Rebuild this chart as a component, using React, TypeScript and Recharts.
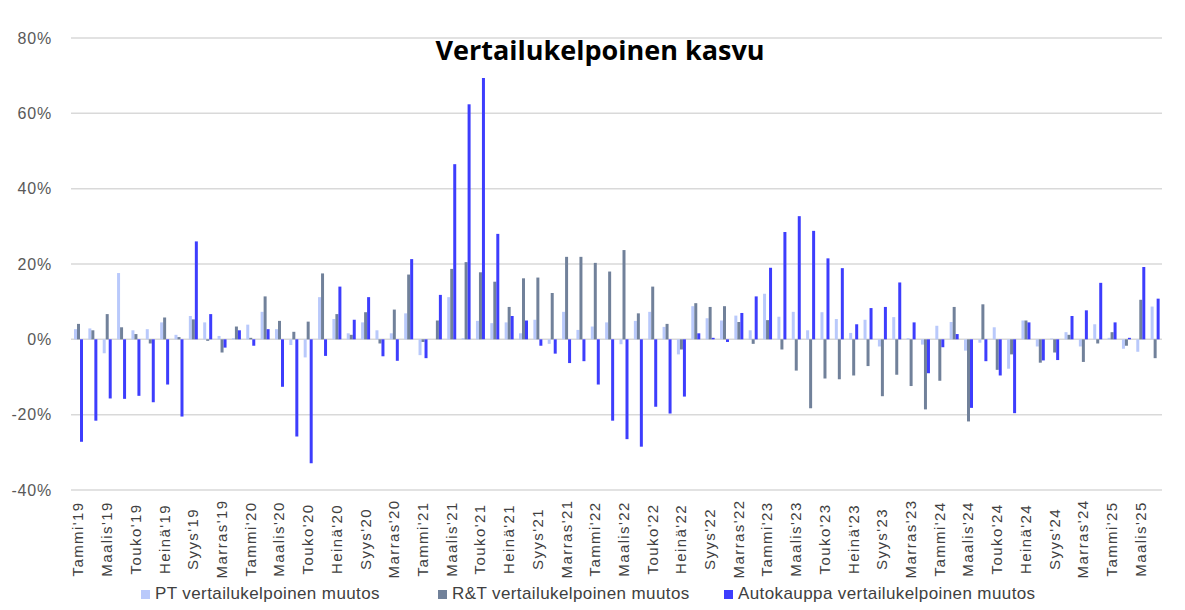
import React from 'react';
import { BarChart, Bar, XAxis, YAxis, CartesianGrid } from 'recharts';

// Kuukaudet (Tammi'19 ... Huhti'25)
const monthNames = ['Tammi', 'Helmi', 'Maalis', 'Huhti', 'Touko', 'Kesä', 'Heinä', 'Elo', 'Syys', 'Loka', 'Marras', 'Joulu'];
const years = ['19', '20', '21', '22', '23', '24', '25'];
const months = years.flatMap((y) => monthNames.map((m) => `${m}'${y}`)).slice(0, 76);

// PT vertailukelpoinen muutos (%)
const pt = [
  2.7, 2.9, -3.7, 17.6, 2.4, 2.7, 4.5, 1.2, 6.2, 4.5, 0.9, 0.3,
  3.9, 7.3, 2.7, -1.5, -4.8, 11.2, 5.4, 1.6, 4.5, 2.4, 1.6, 6.9,
  -4.2, 0, 11.2, 0.3, 4.9, 4.3, 4.5, 1.6, 5.2, -1.2, 7.3, 2.5,
  3.4, 4.5, -1.3, 4.9, 7.3, 3.3, -4.0, 8.8, 5.6, 5.0, 6.3, 2.4,
  12.1, 6.0, 7.3, 2.4, 7.2, 5.4, 1.7, 5.2, -1.9, 5.9, 0.3, -1.4,
  3.6, 4.6, -3.0, -0.9, 3.2, -7.8, 5.0, -1.9, 0.2, 1.9, -1.9, 4.0,
  0.4, -2.5, -3.3, 8.7,
];

// R&T vertailukelpoinen muutos (%)
const rt = [
  4.1, 2.4, 6.7, 3.2, 1.4, -1.1, 5.8, 0.6, 5.3, -0.4, -3.5, 3.4,
  0.4, 11.4, 4.9, 2.0, 4.7, 17.5, 6.7, 1.2, 7.2, -1.1, 7.9, 17.2,
  -0.7, 5.0, 18.7, 20.5, 17.8, 15.3, 8.6, 16.2, 16.4, 12.3, 21.9, 21.9,
  20.3, 18.0, 23.7, 6.9, 14.0, 4.1, -2.7, 9.6, 8.6, 8.8, 4.6, -1.2,
  5.1, -2.7, -8.3, -18.3, -10.4, -10.6, -9.6, -7.1, -15.1, -9.4, -12.4, -18.6,
  -11.0, 8.6, -21.8, 9.3, -8.1, -4.0, 5.0, -6.2, -3.5, 1.2, -6.0, -1.1,
  1.9, -1.7, 10.5, -5.0,
];

// Autokauppa vertailukelpoinen muutos (%)
const auto = [
  -27.2, -21.6, -15.7, -15.8, -15.0, -16.7, -12.0, -20.5, 26.0, 6.7, -2.2, 2.4,
  -1.7, 2.7, -12.6, -25.8, -32.9, -4.4, 14.0, 5.2, 11.2, -4.5, -5.7, 21.3,
  -5.0, 11.8, 46.5, 62.4, 69.4, 28.0, 6.2, 5.0, -1.7, -3.8, -6.3, -5.8,
  -12.0, -21.6, -26.5, -28.5, -17.9, -19.7, -15.2, 1.6, 0.4, -0.7, 7.0, 11.4,
  19.0, 28.5, 32.7, 28.8, 21.5, 18.9, 4.0, 8.3, 8.6, 15.1, 4.5, -9.0,
  -2.1, 1.4, -18.2, -5.8, -9.6, -19.6, 4.5, -5.6, -5.5, 6.2, 7.7, 15.0,
  4.5, 0.4, 19.2, 10.8,
];

const yTicks = [-40, -20, 0, 20, 40, 60, 80];

const COLORS = {
  pt: '#b9c9fb',
  rt: '#71819a',
  auto: '#3d3dfd',
};

const FONT = '"Liberation Sans", Arial, sans-serif';

const data = months.map((month, i) => ({
  month,
  pt: pt[i],
  rt: rt[i],
  auto: auto[i],
}));

const legendItems = [
  { label: 'PT vertailukelpoinen muutos', color: COLORS.pt, left: 141 },
  { label: 'R&T vertailukelpoinen muutos', color: COLORS.rt, left: 438 },
  { label: 'Autokauppa vertailukelpoinen muutos', color: COLORS.auto, left: 724 },
];

function XTick({ x, payload }: any) {
  return (
    <text
      transform={`translate(${x},539) rotate(-90)`}
      textAnchor="middle"
      dy="0.35em"
      fontSize={15}
      letterSpacing={1.4}
      fill="#404040"
      fontFamily={FONT}
    >
      {payload.value}
    </text>
  );
}

function YTick({ y, payload }: any) {
  return (
    <text
      x={52}
      y={y}
      dy="0.35em"
      textAnchor="end"
      fontSize={16}
      letterSpacing={0.8}
      fill="#595959"
      fontFamily={FONT}
    >
      {payload.value}%
    </text>
  );
}

export default function App() {
  return (
    <div style={{ position: 'absolute', left: 0, top: 0, width: 1185, height: 610, background: '#fff' }}>
      <BarChart
        width={1185}
        height={580}
        data={data}
        margin={{ top: 38, right: 23, bottom: 0, left: 0 }}
        barSize={3}
        barGap={0}
      >
        <CartesianGrid vertical={false} stroke="#d9d9d9" strokeWidth={1.5} />
        <XAxis
          dataKey="month"
          interval={1}
          height={90}
          axisLine={false}
          tickLine={false}
          tick={<XTick />}
        />
        <YAxis
          width={71}
          domain={[-40, 80]}
          ticks={yTicks}
          axisLine={false}
          tickLine={false}
          tick={<YTick />}
        />
        <Bar dataKey="pt" fill={COLORS.pt} isAnimationActive={false} />
        <Bar dataKey="rt" fill={COLORS.rt} isAnimationActive={false} />
        <Bar dataKey="auto" fill={COLORS.auto} isAnimationActive={false} />
      </BarChart>

      <div
        style={{
          position: 'absolute',
          left: 0,
          top: 33,
          width: 1200,
          textAlign: 'center',
          fontFamily: '"Open Sans", sans-serif',
          fontWeight: 700,
          fontSize: 27,
          lineHeight: '34px',
          color: '#000',
        }}
      >
        Vertailukelpoinen kasvu
      </div>

      {legendItems.map((item) => (
        <div
          key={item.label}
          style={{
            position: 'absolute',
            left: item.left,
            top: 584,
            display: 'flex',
            alignItems: 'center',
            fontFamily: FONT,
            fontSize: 17,
            letterSpacing: 0.4,
            color: '#404040',
            lineHeight: '20px',
          }}
        >
          <span style={{ display: 'inline-block', width: 9, height: 9, background: item.color, marginRight: 5 }} />
          {item.label}
        </div>
      ))}
    </div>
  );
}
